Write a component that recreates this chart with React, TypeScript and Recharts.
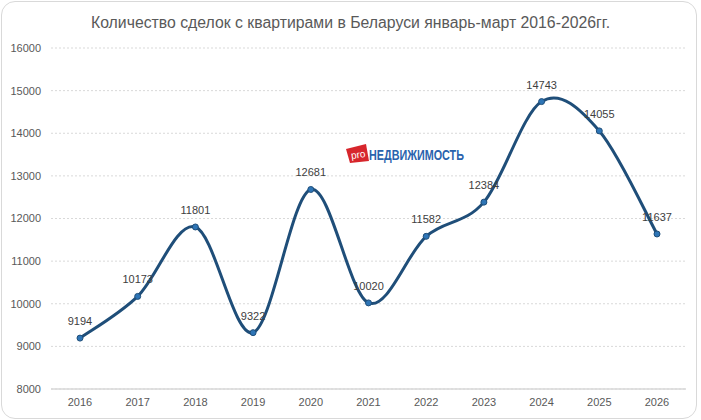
import React from "react";
import {
  CartesianGrid,
  LabelList,
  Line,
  LineChart,
  XAxis,
  YAxis,
} from "recharts";

// Количество сделок с квартирами, январь–март
const years = ["2016", "2017", "2018", "2019", "2020", "2021", "2022", "2023", "2024", "2025", "2026"];
const deals = [9194, 10173, 11801, 9322, 12681, 10020, 11582, 12384, 14743, 14055, 11637];
const yTicks = [8000, 9000, 10000, 11000, 12000, 13000, 14000, 15000, 16000];

const TITLE = "Количество сделок с квартирами в Беларуси январь-март 2016-2026гг.";

const data = years.map((year, i) => ({ year, deals: deals[i] }));

const LINE = "#1f4e79";
const TEXT = "#595959";
const FONT = "'Liberation Sans', Arial, sans-serif";

// Excel-style smoothed line: bezier with control points at ±(next - prev)/6
const excelCurve = (context: any) => {
  let pts: number[][] = [];
  return {
    areaStart() {},
    areaEnd() {},
    lineStart() {
      pts = [];
    },
    point(x: number, y: number) {
      pts.push([+x, +y]);
    },
    lineEnd() {
      const n = pts.length;
      if (!n) return;
      context.moveTo(pts[0][0], pts[0][1]);
      for (let i = 0; i < n - 1; i++) {
        const p0 = pts[Math.max(i - 1, 0)];
        const p1 = pts[i];
        const p2 = pts[i + 1];
        const p3 = pts[Math.min(i + 2, n - 1)];
        context.bezierCurveTo(
          p1[0] + (p2[0] - p0[0]) / 6,
          p1[1] + (p2[1] - p0[1]) / 6,
          p2[0] - (p3[0] - p1[0]) / 6,
          p2[1] - (p3[1] - p1[1]) / 6,
          p2[0],
          p2[1]
        );
      }
    },
  };
};

// watermark "pro НЕДВИЖИМОСТЬ"
function Logo() {
  return (
    <svg width={140} height={24} style={{ position: "absolute", left: 344, top: 142 }}>
      <path d="M2 7 L22 2 L25 19 L6 21 Z" fill="#d7262c" />
      <text
        x={14}
        y={16}
        fontSize={10}
        fill="#ffffff"
        fontFamily={FONT}
        textAnchor="middle"
        transform="rotate(-8 14 12)"
      >
        pro
      </text>
      <g transform="translate(25 0) scale(0.72 1)">
        <text x={0} y={18} fontSize={15} fontWeight={700} fill="#2a63ad" fontFamily={FONT}>
          НЕДВИЖИМОСТЬ
        </text>
      </g>
    </svg>
  );
}

export default function App() {
  return (
    <div
      style={{
        position: "fixed",
        left: 0,
        top: 0,
        width: 701,
        height: 420,
        background: "#ffffff",
        fontFamily: FONT,
      }}
    >
      <div
        style={{
          position: "absolute",
          left: 1,
          top: 1,
          width: 694,
          height: 416,
          border: "1px solid #d9d9d9",
          borderRadius: 14,
        }}
      />
      <div
        style={{
          position: "absolute",
          left: 0,
          top: 14,
          width: 701,
          textAlign: "center",
          fontSize: 15.8,
          color: TEXT,
        }}
      >
        {TITLE}
      </div>
      <div style={{ position: "absolute", left: 0, top: 0 }}>
        <LineChart
          width={701}
          height={420}
          data={data}
          margin={{ top: 48, right: 15, bottom: 3, left: 0 }}
        >
          <CartesianGrid
            vertical={false}
            stroke="#d9d9d9"
            strokeDasharray="2 2"
          />
          <XAxis
            dataKey="year"
            tickLine={false}
            tickSize={0}
            tickMargin={9}
            padding={{ left: 29, right: 29 }}
            axisLine={{ stroke: "#d9d9d9", strokeWidth: 1.5 }}
            tick={{ fill: TEXT, fontSize: 11, fontFamily: FONT }}
            height={28}
          />
          <YAxis
            type="number"
            domain={[8000, 16000]}
            ticks={yTicks}
            tickLine={false}
            tickSize={0}
            tickMargin={10}
            axisLine={false}
            tick={{ fill: TEXT, fontSize: 11, fontFamily: FONT }}
            width={51}
            interval={0}
          />
          <Line
            dataKey="deals"
            type={excelCurve as any}
            stroke={LINE}
            strokeWidth={3}
            dot={{ r: 3, fill: "#2e75b6", stroke: LINE, strokeWidth: 1 }}
            activeDot={false}
            isAnimationActive={false}
          >
            <LabelList
              dataKey="deals"
              position="top"
              offset={13}
              fill="#404040"
              fontSize={11}
              fontFamily={FONT}
            />
          </Line>
        </LineChart>
      </div>
      <Logo />
    </div>
  );
}
